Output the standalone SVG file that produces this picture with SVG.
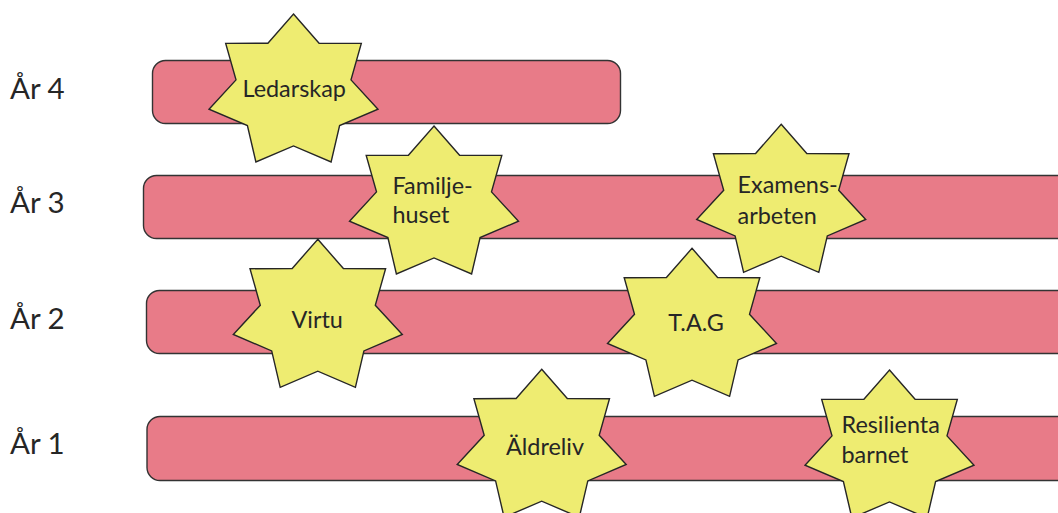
<svg xmlns="http://www.w3.org/2000/svg" width="1058" height="513" viewBox="0 0 1058 513">
  <style>
    .bar { fill: #E87B88; stroke: #333333; stroke-width: 1.4; }
    .star { fill: #EEEC71; stroke: #262626; stroke-width: 1.4; stroke-linejoin: miter; }
    .lbl { font-family: Lato, "Open Sans", "Liberation Sans", sans-serif; font-size: 29.5px; fill: #262626; }
    .st { font-family: Lato, "Open Sans", "Liberation Sans", sans-serif; font-size: 23.4px; fill: #262626; }
    .mid { text-anchor: middle; }
  </style>
  <defs>
    <polygon id="star7" points="0,-77.9 25.6,-48.7 67.8,-48.5 57.5,-12 84.5,17.3 46.1,33.7 37.6,70.1 0,54 -37.6,70.1 -46.1,33.7 -84.5,17.3 -57.5,-12 -67.8,-48.5 -25.6,-48.7"/>
  </defs>
  <rect width="1058" height="513" fill="#FFFFFF"/>

  <g id="row-ar4">
    <text class="lbl" x="10" y="99.3">År 4</text>
    <rect class="bar" x="152.5" y="60.5" width="468" height="63" rx="13" ry="13"/>
  </g>
  <g id="row-ar3">
    <text class="lbl" x="10" y="213.3">År 3</text>
    <rect class="bar" x="143.5" y="175.5" width="1013" height="63" rx="13" ry="13"/>
  </g>
  <g id="row-ar2">
    <text class="lbl" x="10" y="329">År 2</text>
    <rect class="bar" x="146.5" y="290.5" width="940" height="63" rx="13" ry="13"/>
  </g>
  <g id="row-ar1">
    <text class="lbl" x="10" y="454.3">År 1</text>
    <rect class="bar" x="147" y="416.5" width="940" height="64" rx="13" ry="13"/>
  </g>

  <g id="connectors"></g>

  <g id="star-ledarskap">
    <use href="#star7" class="star" transform="translate(293.5,91.9)"/>
    <text class="st mid" x="294.2" y="97">Ledarskap</text>
  </g>
  <g id="star-familjehuset">
    <use href="#star7" class="star" transform="translate(434,203.9)"/>
    <text class="st" x="392.5" y="193.5">Familje-</text>
    <text class="st" x="392.5" y="223">huset</text>
  </g>
  <g id="star-examensarbeten">
    <use href="#star7" class="star" transform="translate(781.2,202.2)"/>
    <text class="st" x="737.5" y="192.5">Examens-</text>
    <text class="st" x="737.5" y="224">arbeten</text>
  </g>
  <g id="star-virtu">
    <use href="#star7" class="star" transform="translate(317.8,317.2)"/>
    <text class="st mid" x="317.2" y="327.5">Virtu</text>
  </g>
  <g id="star-tag">
    <use href="#star7" class="star" transform="translate(692,326.2)"/>
    <text class="st mid" x="696" y="331">T.A.G</text>
  </g>
  <g id="star-aldreliv">
    <use href="#star7" class="star" transform="translate(541.7,447.2)"/>
    <text class="st mid" x="545" y="455.2">Äldreliv</text>
  </g>
  <g id="star-resilienta">
    <use href="#star7" class="star" transform="translate(889.5,447.9)"/>
    <text class="st" x="841.5" y="432.5">Resilienta</text>
    <text class="st" x="841.5" y="463">barnet</text>
  </g>
</svg>
